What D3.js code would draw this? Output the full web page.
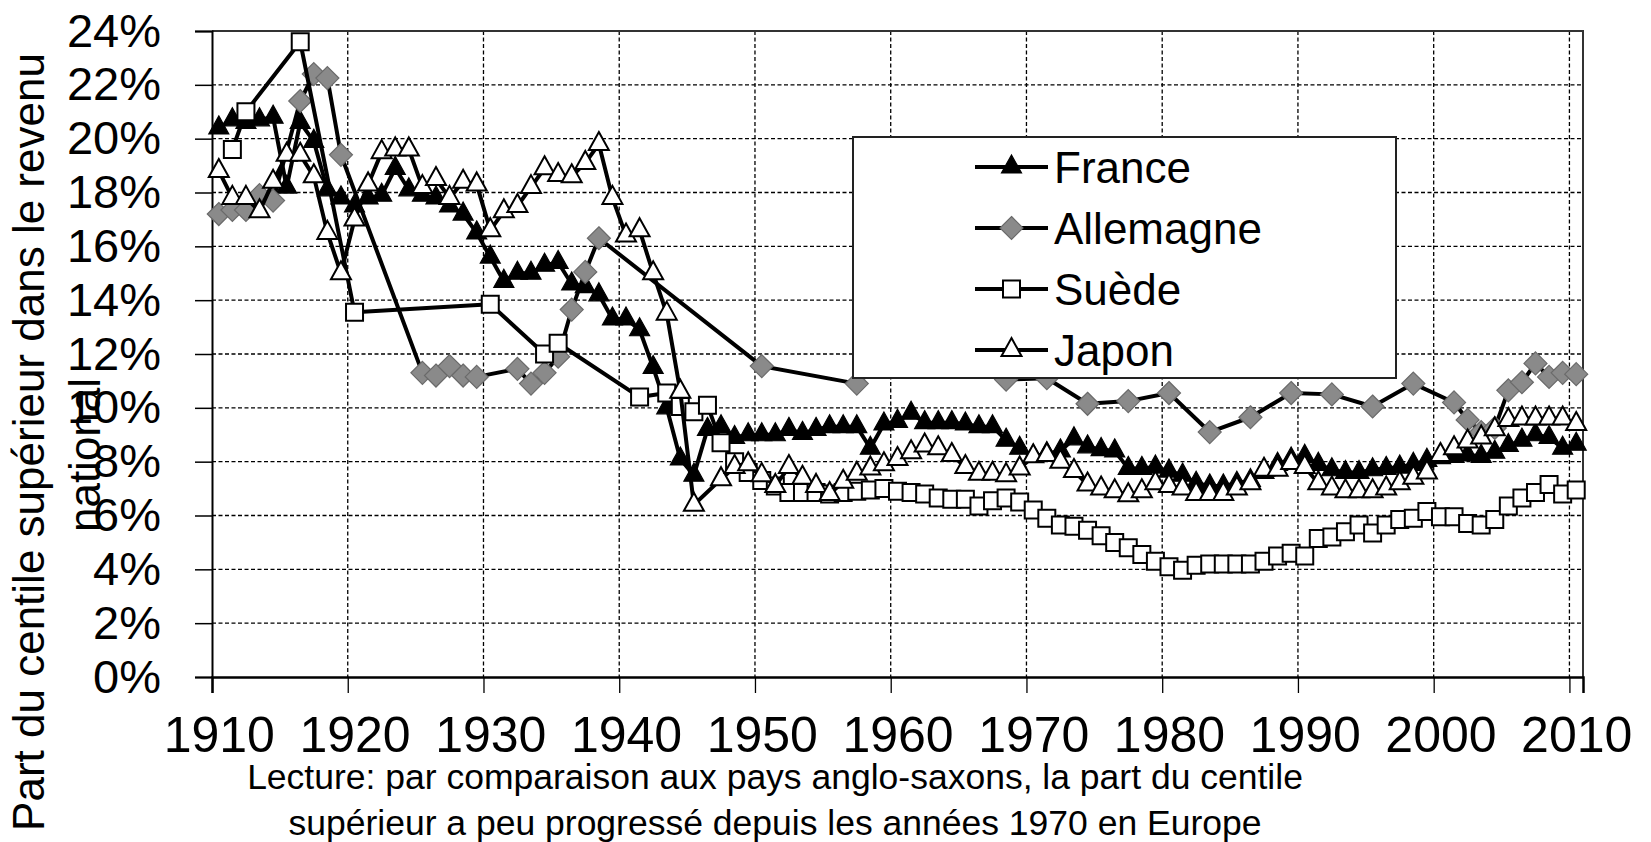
<!DOCTYPE html>
<html>
<head>
<meta charset="utf-8">
<script src="https://cdn.jsdelivr.net/npm/d3@7"></script>
<style>
  body { margin: 0; background: #fff; }
  svg { display: block; }
  text { font-family: "Liberation Sans", Arial, sans-serif; fill: #000; }
</style>
</head>
<body>
<div id="chart"></div>
<script>
// Part du centile supérieur (%)
const franceStart = 1910;
const franceValues = [
  20.4, 20.7, 20.6, 20.7, 20.8, 18.2, 20.6, 19.9, 18.1, 17.8,
  17.5, 17.8, 17.9, 18.9, 18.1, 17.9, 17.8, 17.5, 17.2, 16.5,
  15.6, 14.7, 15.0, 15.0, 15.3, 15.4, 14.6, 14.5, 14.2, 13.3,
  13.3, 12.9, 11.5, 10.0, 8.1, 7.5, 9.2, 9.3, 8.9, 9.0,
  9.0, 9.0, 9.2, 9.05, 9.2, 9.3, 9.3, 9.3, 8.5, 9.4,
  9.5, 9.8, 9.45, 9.45, 9.45, 9.4, 9.3, 9.3, 8.8, 8.5,
  8.2, 8.3, 8.4, 8.85, 8.55, 8.45, 8.4, 7.75, 7.75, 7.8,
  7.65, 7.5, 7.2, 7.1, 7.1, 7.2, 7.3, 7.6, 7.9, 8.1,
  8.2, 7.9, 7.7, 7.6, 7.6, 7.7, 7.75, 7.8, 7.9, 8.05,
  8.15, 8.2, 8.25, 8.2, 8.35, 8.6, 8.8, 9.0, 8.9, 8.5,
  8.65
];

const allemagneYears = [
  1910, 1911, 1912, 1913, 1914, 1916, 1917, 1918, 1919,
  1925, 1926, 1927, 1928, 1929, 1932, 1933, 1934, 1935, 1936, 1937, 1938,
  1950, 1957, 1961, 1965, 1968, 1971, 1974, 1977, 1980, 1983, 1986, 1989,
  1992, 1995, 1998, 2001, 2002, 2003, 2004, 2005, 2006, 2007, 2008, 2009, 2010
];
const allemagneValues = [
  17.2, 17.35, 17.35, 17.9, 17.7, 21.4, 22.4, 22.25, 19.4,
  11.3, 11.2, 11.55, 11.2, 11.15, 11.45, 10.9, 11.3, 11.9, 13.65, 15.05, 16.3,
  11.55, 10.9, 12.6, 12.0, 11.05, 11.1, 10.15, 10.25, 10.55, 9.1, 9.65, 10.55,
  10.5, 10.05, 10.9, 10.2, 9.55, 9.1, 9.25, 10.65, 10.95, 11.65, 11.15, 11.3, 11.25
];

const suedeYears = [1911, 1912, 1916, 1920, 1930, 1934, 1935, 1941].concat(d3.range(1943, 2011));
const suedeValues = [
  19.6, 21.0, 23.6, 13.55, 13.85, 12.0, 12.4, 10.4,
  10.55, 10.05, 9.85, 10.1, 8.7, 8.0, 7.6,
  7.3, 7.1, 6.85, 6.85, 6.85, 6.8, 6.85, 6.9, 6.95, 7.0,
  6.9, 6.85, 6.8, 6.65, 6.6, 6.6, 6.35, 6.55, 6.65, 6.5,
  6.2, 5.9, 5.65, 5.6, 5.45, 5.25, 5.0, 4.8, 4.55, 4.3,
  4.1, 3.97, 4.15, 4.2, 4.2, 4.2, 4.2, 4.3, 4.5, 4.6,
  4.5, 5.15, 5.2, 5.4, 5.65, 5.35, 5.65, 5.85, 5.9, 6.15,
  5.95, 5.95, 5.7, 5.65, 5.85, 6.35, 6.65, 6.85, 7.15, 6.8,
  6.95
];

const japonStart = 1910;
const japonValues = [
  18.8, 17.8, 17.8, 17.3, 18.4, 19.4, 19.4, 18.6, 16.5, 15.0,
  17.0, 18.3, 19.5, 19.6, 19.6, 18.2, 18.5, 17.8, 18.4, 18.3,
  16.6, 17.3, 17.5, 18.2, 18.9, 18.65, 18.6, 19.1, 19.8, 17.8,
  16.4, 16.6, 15.0, 13.5, 10.6, 6.4, null, 7.35, 7.8, 7.9,
  7.5, 7.1, 7.8, 7.4, 7.1, 6.8, 7.25, 7.55, 7.75, 7.9,
  8.1, 8.35, 8.6, 8.5, 8.25, 7.8, 7.55, 7.55, 7.5, 7.75,
  8.2, 8.25, 8.0, 7.65, 7.15, 7.0, 6.9, 6.75, 6.9, 7.2,
  7.1, 7.0, 6.8, 6.8, 6.8, 7.0, 7.2, 7.7, 7.7, 7.95,
  7.8, 7.2, 7.0, 6.9, 6.9, 6.9, 7.0, 7.2, 7.4, 7.6,
  8.25, 8.5, 8.75, 8.9, 9.2, 9.55, 9.6, 9.6, 9.6, 9.6,
  9.4
];

const yTicks = [0, 2, 4, 6, 8, 10, 12, 14, 16, 18, 20, 22, 24];
const xTicks = [1910, 1920, 1930, 1940, 1950, 1960, 1970, 1980, 1990, 2000, 2010];
const seriesNames = ['France', 'Allemagne', 'Suède', 'Japon'];

const width = 1651, height = 842;
const plot = {left: 212, right: 1583, top: 31, bottom: 677};

const x = d3.scaleLinear().domain([1910, 2011]).range([plot.left, plot.right]);
const y = d3.scaleLinear().domain([0, 24]).range([plot.bottom, plot.top]);
const half = x(1910.5) - x(1910);

const svg = d3.select('#chart').append('svg')
  .attr('width', width)
  .attr('height', height);

// grille pointillée
svg.append('g').selectAll('line')
  .data(yTicks.filter(d => d > 0 && d < 24))
  .join('line')
  .attr('x1', plot.left).attr('x2', plot.right)
  .attr('y1', d => y(d)).attr('y2', d => y(d))
  .attr('stroke', '#000').attr('stroke-width', 1.3)
  .attr('stroke-dasharray', '4,2.5');

svg.append('g').selectAll('line')
  .data(xTicks.filter(d => d > 1910))
  .join('line')
  .attr('x1', d => x(d)).attr('x2', d => x(d))
  .attr('y1', plot.top).attr('y2', plot.bottom)
  .attr('stroke', '#000').attr('stroke-width', 1.3)
  .attr('stroke-dasharray', '4,2.5');

// cadre haut et droit
svg.append('path')
  .attr('d', `M${plot.left},${plot.top}H${plot.right}V${plot.bottom}`)
  .attr('fill', 'none').attr('stroke', '#333').attr('stroke-width', 2);

// axes
const yAxis = d3.axisLeft(y)
  .tickValues(yTicks)
  .tickSize(17)
  .tickPadding(34)
  .tickFormat(d => d + '%');

const gy = svg.append('g')
  .attr('transform', `translate(${plot.left},0)`)
  .call(yAxis);
gy.select('.domain').attr('stroke', '#000').attr('stroke-width', 2);
gy.selectAll('.tick line').attr('stroke', '#000').attr('stroke-width', 1.5);
gy.selectAll('.tick text').style('font-size', '47px');

const xAxis = d3.axisBottom(x)
  .tickValues(xTicks)
  .tickSize(16)
  .tickPadding(23);

const gx = svg.append('g')
  .attr('transform', `translate(0,${plot.bottom})`)
  .call(xAxis);
gx.select('.domain').attr('stroke', '#000').attr('stroke-width', 2.5);
gx.selectAll('.tick line').attr('stroke', '#000').attr('stroke-width', 1.3);
gx.selectAll('.tick text')
  .attr('dx', half)
  .style('font-size', '50px')
  .text(d => String(d));

// marqueurs
const triPath = 'M0,-12L10,6L-10,6Z';
const squarePath = 'M-8.5,-8.5H8.5V8.5H-8.5Z';
const diamondPath = 'M0,-11.5L11.5,0L0,11.5L-11.5,0Z';

const styles = [
  {path: triPath, fill: '#000', stroke: '#000', sw: 1.2},
  {path: diamondPath, fill: '#8a8a8a', stroke: '#6a6a6a', sw: 1.2},
  {path: squarePath, fill: '#fff', stroke: '#000', sw: 2},
  {path: triPath, fill: '#fff', stroke: '#000', sw: 2}
];

const series = [
  franceValues.map((v, i) => ({year: franceStart + i, value: v})),
  allemagneYears.map((yr, i) => ({year: yr, value: allemagneValues[i]})),
  suedeYears.map((yr, i) => ({year: yr, value: suedeValues[i]})),
  japonValues.map((v, i) => ({year: japonStart + i, value: v})).filter(d => d.value !== null)
];

const line = d3.line()
  .x(d => x(d.year + 0.5))
  .y(d => y(d.value));

series.forEach((data, k) => {
  const st = styles[k];
  const g = svg.append('g');
  g.append('path')
    .datum(data)
    .attr('d', line)
    .attr('fill', 'none')
    .attr('stroke', '#000')
    .attr('stroke-width', 4)
    .attr('stroke-linejoin', 'round');
  g.selectAll('path.mk')
    .data(data)
    .join('path')
    .attr('class', 'mk')
    .attr('d', st.path)
    .attr('transform', d => `translate(${x(d.year + 0.5)},${y(d.value)})`)
    .attr('fill', st.fill)
    .attr('stroke', st.stroke)
    .attr('stroke-width', st.sw);
});

// légende
const legend = svg.append('g');
legend.append('rect')
  .attr('x', 853).attr('y', 137)
  .attr('width', 543).attr('height', 241)
  .attr('fill', '#fff').attr('stroke', '#222').attr('stroke-width', 2);

const legendY = [167, 228, 289, 350];
seriesNames.forEach((name, k) => {
  const st = styles[k];
  const gy0 = legendY[k];
  legend.append('line')
    .attr('x1', 975).attr('x2', 1048)
    .attr('y1', gy0).attr('y2', gy0)
    .attr('stroke', '#000').attr('stroke-width', 4);
  legend.append('path')
    .attr('d', st.path)
    .attr('transform', `translate(1011.5,${gy0})`)
    .attr('fill', st.fill).attr('stroke', st.stroke).attr('stroke-width', st.sw);
  legend.append('text')
    .attr('x', 1054).attr('y', gy0)
    .attr('dy', '0.36em')
    .style('font-size', '44px')
    .text(name);
});

// titre de l'axe vertical
svg.append('text')
  .attr('transform', 'translate(44,442) rotate(-90)')
  .attr('text-anchor', 'middle')
  .style('font-size', '44px')
  .text('Part du centile supérieur dans le revenu');
svg.append('text')
  .attr('transform', 'translate(100,455) rotate(-90)')
  .attr('text-anchor', 'middle')
  .style('font-size', '44px')
  .text('national');

// note de lecture
svg.append('text')
  .attr('x', 775).attr('y', 789)
  .attr('text-anchor', 'middle')
  .style('font-size', '35.5px')
  .text('Lecture: par comparaison aux pays anglo-saxons, la part du centile');
svg.append('text')
  .attr('x', 775).attr('y', 835)
  .attr('text-anchor', 'middle')
  .style('font-size', '35.5px')
  .text('supérieur a peu progressé depuis les années 1970 en Europe');
</script>
</body>
</html>
